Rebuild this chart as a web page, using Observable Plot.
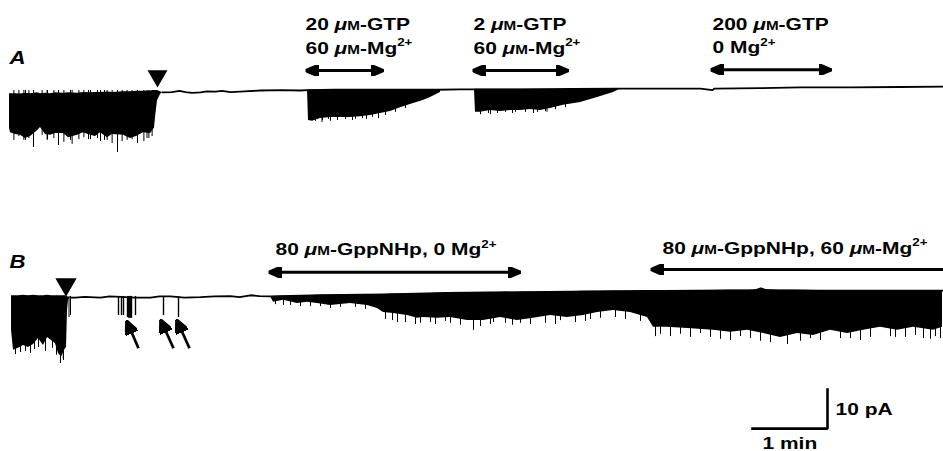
<!DOCTYPE html>
<html><head><meta charset="utf-8">
<script src="https://cdn.jsdelivr.net/npm/d3@7"></script>
<script src="https://cdn.jsdelivr.net/npm/@observablehq/plot@0.6"></script>
<style>
html,body{margin:0;padding:0;background:#fff;}
#chart{width:943px;height:451px;overflow:hidden;}
</style></head><body><div id="chart"></div>
<script>
// ---- DATA: time in s (0 = start of record), current in pA (relative to each trace's baseline) ----
// Trace A
const bandA1 = [[0,-0.8,-9.7],[0.8,-0.8,-10.8],[4.8,-0.8,-11.3],[8.8,-0.9,-11.5],[12.8,-0.7,-12.3],[16.8,-0.8,-11.8],[22.4,-0.6,-10.3],[24.8,-0.8,-9.5],[28.8,-0.7,-11.3],[32.8,-0.8,-11.5],[36.8,-0.6,-11.0],[43.2,-0.7,-11.0],[47.2,-0.6,-12.1],[54.4,-0.7,-11.5],[59.2,-0.5,-10.8],[64.8,-0.6,-11.5],[68.8,-0.5,-11.8],[72.8,-0.5,-10.8],[78.4,-0.4,-12.1],[82.4,-0.5,-11.3],[91.2,-0.3,-11.5],[96.8,-0.3,-12.3],[101.6,-0.2,-11.8],[107.2,-0.2,-10.8],[112.8,-0.1,-11.0],[116,0,-9.7],[116.8,0,-6.9],[118.4,0,-2.6],[120.8,-0.3,-1.0],[122.4,-0.5,-0.5]];
const bandA2 = [[238.4,0.1,0],[239.2,0.1,-7.7],[242.4,0.1,-7.9],[248.8,0.1,-7.2],[256.8,0.1,-6.9],[264.8,0.1,-6.9],[272.8,0.1,-6.9],[280.8,0.1,-6.7],[288.8,0.1,-6.4],[296.8,0.2,-5.9],[304.8,0.2,-5.4],[312.8,0.2,-4.4],[323.2,0.2,-3.3],[330.4,0.2,-2.6],[336.8,0.2,-1.8],[344.8,0.2,-0.5]];
const bandA3 = [[372,0.3,0.2],[372.8,0.3,-5.6],[376.8,0.3,-5.6],[384.8,0.3,-5.1],[392.8,0.3,-5.4],[400.8,0.3,-5.1],[408.8,0.3,-5.1],[416.8,0.3,-4.9],[424.8,0.3,-5.1],[432.8,0.3,-4.6],[443.2,0.3,-3.8],[456.8,0.4,-3.1],[470.4,0.4,-1.8],[483.2,0.4,-0.5],[488.8,0.4,0.4]];
const baselineA = [[122.4,-0.5],[130,-0.4],[136,-0.1],[140.8,-0.4],[146,-0.6],[152.8,-0.5],[158,-0.2],[164.8,-0.3],[170,-0.1],[176.8,-0.4],[188,-0.2],[200.8,0],[216.8,0.1],[232.8,0],[238.4,0.1],[260,0.2],[300,0.2],[342.4,0.2],[360.8,0.3],[372,0.3],[410,0.3],[450,0.4],[486.4,0.5],[520.8,0.5],[552.8,0.5],[562.4,0.1],[564,0.5],[600.8,0.6],[632.8,0.8],[672.8,0.8],[712.8,0.9],[747.2,1.0]];
const spikesA = [[3.5,-12.8],[7.5,-11.8],[11.5,-12.8],[12.8,-12.8],[15.5,-12.3],[19.2,-14.6],[26.1,-11.5],[30.1,-12.8],[30.4,-12.6],[35.5,-12.3],[39.2,-14.1],[43.5,-13.3],[48.8,-12.8],[50.1,-13.8],[55.5,-12.6],[59.5,-12.1],[63.2,-12.6],[64.8,-12.6],[70.4,-12.3],[72.8,-13.1],[76,-12.8],[78.1,-12.8],[82.1,-13.6],[86.4,-15.9],[90.1,-13.1],[94.1,-12.8],[98.1,-12.6],[102.4,-13.6],[107.5,-13.1],[110,-12.3],[111.5,-12.3],[114.1,-11.8],
  [244.8,-7.9],[250,-8.2],[250.4,-7.7],[255.2,-7.4],[256.8,-7.9],[262.4,-7.7],[268.8,-7.4],[274.4,-7.7],[276.8,-7.4],[282.4,-7.2],[285.6,-7.4],[290.4,-6.9],[295.2,-7.2],[300.8,-6.4],[308.8,-5.6],[316.8,-4.6],
  [376.8,-6.2],[383.2,-5.9],[384.8,-6.2],[390.4,-5.9],[396.8,-5.6],[402.4,-5.9],[404.8,-5.6],[412.8,-5.6],[419.2,-5.9],[422.4,-5.6],[428.8,-5.4],[430,-5.6],[436.8,-4.9],[444.8,-4.4]];
// Trace B
const bandB1 = [[1.6,0.2,-8.7],[3.2,0.2,-13.8],[7.2,0.2,-13.3],[11.2,0.3,-12.6],[15.2,0.2,-13.1],[19.2,0.3,-12.3],[23.2,0.2,-10.8],[27.2,0.2,-12.6],[30.4,0.3,-10.5],[33.6,0.2,-11.3],[36.8,0.2,-12.1],[39.2,0.2,-14.6],[41.6,0.2,-15.6],[44,0.2,-13.8],[45.6,0.1,-13.1],[46.4,0,-3.6],[47.2,-0.2,-1.0],[48.8,-0.3,-0.3]];
const bandB2 = [[208.8,0,0],[211.2,0,-1.5],[219.2,0.1,-1.0],[230.4,0.1,-1.8],[238.4,0.2,-1.5],[246.4,0.3,-1.8],[256.8,0.3,-2.3],[272.8,0.4,-1.8],[286.4,0.4,-2.3],[294.4,0.5,-3.1],[299.2,0.5,-4.1],[307.2,0.6,-4.4],[318.4,0.6,-4.9],[326.4,0.7,-5.6],[331.2,0.7,-5.4],[342.4,0.8,-5.6],[352.8,0.9,-5.4],[366.4,0.9,-6.2],[379.2,1.0,-6.2],[392.8,1.0,-5.4],[406.4,1.1,-6.2],[419.2,1.1,-5.6],[432.8,1.2,-4.9],[446.4,1.2,-5.4],[459.2,1.3,-4.9],[470.4,1.3,-4.1],[483.2,1.4,-3.6],[496.8,1.4,-4.1],[510.4,1.5,-5.4],[515.2,1.5,-7.9],[526.4,1.5,-7.9],[542.4,1.5,-8.2],[563.2,1.5,-8.7],[576.8,1.6,-9.2],[590.4,1.6,-8.7],[603.2,1.8,-9.5],[616.8,1.6,-10.5],[630.4,1.6,-9.5],[643.2,1.5,-10.0],[656.8,1.5,-8.7],[670.4,1.5,-9.5],[683.2,1.5,-8.7],[696.8,1.5,-7.9],[710.4,1.5,-8.7],[723.2,1.5,-7.9],[739.2,1.5,-8.7],[746.4,1.5,-7.9]];
const baselineB = [[48.8,-0.3],[52.8,-0.3],[60,-0.1],[72.8,-0.3],[80,0],[88.8,-0.1],[100,-0.3],[112.8,-0.3],[120,0],[128.8,0],[140,-0.3],[152.8,-0.2],[164,0],[176.8,0.1],[184,-0.2],[192.8,0.3],[200,0.1],[208.8,0],[250,0.3],[300,0.5],[350,0.9],[410,1.1],[470,1.3],[550,1.5],[597,1.6],[601,2.1],[605,1.6],[650,1.5],[746.4,1.5]];
const spikesB = [[4.8,-14.9],[8.8,-14.4],[12.8,-14.1],[16.8,-14.6],[20,-13.6],[23.2,-13.1],[28.8,-14.1],[34.4,-13.3],[37.6,-15.1],[40.8,-17.2],[43,-16],[43.2,-16.4],[47.6,-5.4],[48.8,-4.9],
  [212.8,-2.1],[219.2,-2.3],[224.8,-2.3],[232.8,-2.6],[240.8,-2.6],[248.8,-2.6],[256.8,-3.1],[264.8,-2.8],[276.8,-2.8],[284.8,-3.3],[300.8,-5.9],[306.4,-6.2],[310.4,-6.7],[316.8,-6.7],[324.8,-7.2],[328.8,-6.9],[336.8,-6.7],[340.8,-7.2],[348.8,-6.4],[352.8,-6.9],[360.8,-7.4],[371.2,-8.7],[376.8,-7.7],[384.8,-7.2],[387.2,-6.7],[396.8,-6.9],[402.4,-7.4],[408.8,-6.9],[416.8,-7.2],[428.8,-6.9],[436.8,-7.2],[440.8,-6.2],[452.8,-6.7],[460.8,-6.4],[464.8,-5.9],[472.8,-5.6],[484.8,-5.4],[492.8,-5.9],[504.8,-6.4],
  [516.8,-10.3],[520.8,-9.7],[528.8,-10.3],[536.8,-9.7],[544.8,-10.5],[552.8,-9.5],[560.8,-10.5],[568.8,-11.0],[576.8,-11.3],[584.8,-10.3],[592.8,-10.8],[600.8,-11.5],[608.8,-11.8],[622.4,-12.3],[632.8,-11.5],[640.8,-10.8],[648.8,-11.3],[664.8,-10.8],[672.8,-10.8],[680.8,-11.3],[688.8,-10.5],[704.8,-10.3],[708.8,-10.5],[716.8,-10.5],[724.8,-10.0],[731.2,-10.8],[736.8,-11.0],[740.8,-10.3],[744.8,-10.8]];
const openingsB = [[87.2,-4.9],[89.6,-4.9],[91.2,-4.9],[94.4,-5.4],[95.2,-5.6],[96,-5.6],[96.8,-5.6],[97.6,-5.6],[100.8,-4.9],[123.2,-4.9],[135.2,-5.4]];
// markers: [tailT, tailI, tipT, tipI]
const openingArrowsB = [[103.2,-13.3,93.6,-6.15],[131.2,-13.3,120.8,-5.9],[144,-13.3,133.6,-5.9]];
const triangles = [{trace:"A", t:118.4, i:3.7},{trace:"B", t:45.2, i:3.1}];
// drug applications: start, end (s), level (pA)
const appsA = [{start:236.8,end:299.2,i:5.1},{start:370.4,end:447.2,i:5.1},{start:560.8,end:657.6,i:5.3}];
const appsB = [{start:207.2,end:408.8,i:6.2,heads:"both"},{start:512.8,end:747.2,i:6.9,heads:"start"}];
const labelsA = [
  {t:236.8,i:15.4,text:"20 μM-GTP"},{t:236.8,i:9.4,text:"60 μM-Mg2+"},
  {t:371.2,i:15.4,text:"2 μM-GTP"},{t:371.2,i:9.4,text:"60 μM-Mg2+"},
  {t:562.4,i:15.6,text:"200 μM-GTP"},{t:562.4,i:9.5,text:"0 Mg2+"}];
const labelsB = [{t:212.8,i:10.5,text:"80 μM-GppNHp, 0 Mg2+"},{t:522.4,i:11.0,text:"80 μM-GppNHp, 60 μM-Mg2+"}];
const panels = [{trace:"A",i:6.7,text:"A"},{trace:"B",i:7.2,text:"B"}];
const scaleBar = {time:60, current:10, endT:654.4, baseI:-86.7, timeLabel:"1 min", currentLabel:"10 pA", timeLabelT:602.4, timeLabelI:-92.0, currentLabelT:660.8, currentLabelI:-83.3};

// ---- layout constants ----
const OFFSET_B = -52.8; // vertical shift of trace B for display
const sh = (trace) => trace === "B" ? OFFSET_B : 0;

const bands = [
  ...bandA1.map(d => ({band:"A1", t:d[0], top:d[1], bottom:d[2]})),
  ...bandA2.map(d => ({band:"A2", t:d[0], top:d[1], bottom:d[2]})),
  ...bandA3.map(d => ({band:"A3", t:d[0], top:d[1], bottom:d[2]})),
  ...bandB1.map(d => ({band:"B1", t:d[0], top:d[1]+OFFSET_B, bottom:d[2]+OFFSET_B})),
  ...bandB2.map(d => ({band:"B2", t:d[0], top:d[1]+OFFSET_B, bottom:d[2]+OFFSET_B}))
];
const baselines = [
  ...baselineA.map(d => ({trace:"A", t:d[0], i:d[1]})),
  ...baselineB.map(d => ({trace:"B", t:d[0], i:d[1]+OFFSET_B}))
];
const spikes = [
  ...spikesA.map(d => ({t:d[0], top:0, bottom:d[1]})),
  ...spikesB.map(d => ({t:d[0], top:OFFSET_B, bottom:d[1]+OFFSET_B}))
];
const openings = openingsB.map(d => ({t:d[0], top:OFFSET_B, bottom:d[1]+OFFSET_B}));
const apps = [
  ...appsA.map(d => ({...d, heads:"both"})),
  ...appsB.map(d => ({...d, i:d.i+OFFSET_B}))
];

function head(len, half) {
  return (color) => {
    const ns = "http://www.w3.org/2000/svg";
    const m = document.createElementNS(ns, "marker");
    m.setAttribute("viewBox", `${-len} ${-half} ${len} ${2*half}`);
    m.setAttribute("markerUnits", "userSpaceOnUse");
    m.setAttribute("markerWidth", len);
    m.setAttribute("markerHeight", 2*half);
    m.setAttribute("refX", 0);
    m.setAttribute("refY", 0);
    m.setAttribute("orient", "auto-start-reverse");
    const p = document.createElementNS(ns, "path");
    p.setAttribute("d", `M${-len},${-half}L0,0L${-len},${half}Z`);
    p.setAttribute("fill", color);
    m.appendChild(p);
    return m;
  };
}

const FONT = "Liberation Sans, Arial, Helvetica, sans-serif";
const textOpts = {fontFamily: FONT, fontSize: 16.5, fontWeight: "bold", textAnchor: "start", lineAnchor: "bottom", fill: "black"};

const chart = Plot.plot({
  width: 943, height: 451, margin: 0,
  x: {domain: [-7.2, 747.2], axis: null},
  y: {domain: [-92.56, 23.08], axis: null},
  marks: [
    Plot.areaY(bands, {x:"t", y1:"top", y2:"bottom", z:"band", fill:"black", curve:"linear"}),
    Plot.line(baselines, {x:"t", y:"i", z:"trace", stroke:"black", strokeWidth:1.8}),
    Plot.ruleX(spikes, {x:"t", y1:"top", y2:"bottom", stroke:"black", strokeWidth:1}),
    Plot.ruleX(openings, {x:"t", y1:"top", y2:"bottom", stroke:"black", strokeWidth:1.4}),
    Plot.dot(triangles.filter(d => d.trace === "A"), {x:"t", y:"i", symbol:"triangle", r:7.4, rotate:180, fill:"black", stroke:null}),
    Plot.dot(triangles.filter(d => d.trace === "B"), {x:"t", y: d => d.i + OFFSET_B, symbol:"triangle", r:7.9, rotate:180, fill:"black", stroke:null}),
    Plot.link(apps.filter(d => d.heads === "both"), {x1:"start", x2:"end", y1:"i", y2:"i", stroke:"black", strokeWidth:3, markerStart: head(13,5.5), markerEnd: head(13,5.5)}),
    Plot.link(apps.filter(d => d.heads === "start"), {x1:"start", x2:"end", y1:"i", y2:"i", stroke:"black", strokeWidth:3, markerStart: head(13,5.5)}),
    Plot.link(openingArrowsB, {x1: d => d[0], y1: d => d[1]+OFFSET_B, x2: d => d[2], y2: d => d[3]+OFFSET_B, stroke:"black", strokeWidth:2.7, markerEnd: head(14,6.5)}),
    Plot.line([[scaleBar.endT - scaleBar.time, scaleBar.baseI],[scaleBar.endT, scaleBar.baseI],[scaleBar.endT, scaleBar.baseI + scaleBar.current]], {x: d => d[0], y: d => d[1], stroke:"black", strokeWidth:2.6, strokeLinejoin:"miter", strokeLinecap:"square"}),
    Plot.text(labelsA, {x:"t", y:"i", text:"text", ...textOpts}),
    Plot.text(labelsB, {x:"t", y: d => d.i + OFFSET_B, text:"text", ...textOpts}),
    Plot.text([scaleBar], {x:"timeLabelT", y:"timeLabelI", text:"timeLabel", ...textOpts}),
    Plot.text([scaleBar], {x:"currentLabelT", y:"currentLabelI", text:"currentLabel", ...textOpts}),
    Plot.text(panels, {x: () => 0, y: d => d.i + sh(d.trace), text:"text", ...textOpts, fontSize: 17.5, fontStyle:"italic"})
  ]
});
document.getElementById("chart").appendChild(chart);

// rich text: italic μ + small-capital M, superscript charge, horizontally widened lettering
const NS = "http://www.w3.org/2000/svg";
chart.querySelectorAll("text").forEach(el => {
  const s = el.textContent;
  el.textContent = "";
  const add = (str, attrs = {}) => {
    const ts = document.createElementNS(NS, "tspan");
    for (const [k, v] of Object.entries(attrs)) ts.setAttribute(k, v);
    ts.textContent = str;
    el.appendChild(ts);
  };
  const re = /μM|2\+$/g;
  let last = 0, m;
  while ((m = re.exec(s))) {
    if (m.index > last) add(s.slice(last, m.index));
    if (m[0] === "μM") { add("μ", {"font-style": "italic"}); add("M", {"font-size": "12px"}); }
    else add("2+", {"font-size": "10.5px", dy: -7.5});
    last = m.index + m[0].length;
  }
  if (last < s.length) add(s.slice(last));
  const L = el.getComputedTextLength();
  el.setAttribute("textLength", L * 1.27);
  el.setAttribute("lengthAdjust", "spacingAndGlyphs");
});
</script>
</body></html>
